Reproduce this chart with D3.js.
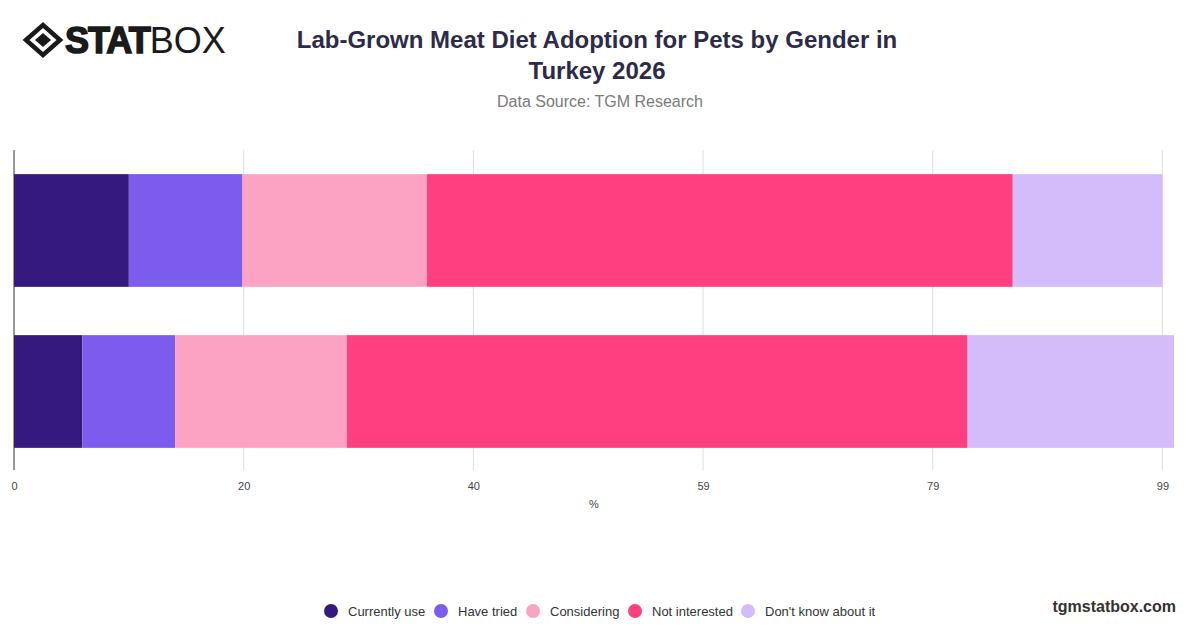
<!DOCTYPE html>
<html><head><meta charset="utf-8">
<script src="https://cdn.jsdelivr.net/npm/d3@7"></script>
<style>body{margin:0;background:#fff;font-family:"Helvetica Neue",Arial,"Liberation Sans",sans-serif}</style>
</head><body>
<script>
const genders = ['Male', 'Female']
const series = ['Currently use', 'Have tried', 'Considering', 'Not interested', "Don't know about it"]
const colors = ['#35197f', '#7b5ced', '#fca3c3', '#ff3f80', '#d4bcfb']
const values = [
  [9.9, 9.8, 15.9, 50.5, 12.9],
  [5.9, 8, 14.8, 53.5, 17.8]
]
const tickVals = [0, 19.8, 39.6, 59.4, 79.2, 99]

const W = 1200, H = 628
const svg = d3.select('body').append('svg').attr('width', W).attr('height', H)

// logo
const lg = svg.append('g').attr('transform', 'translate(43,40)')
lg.append('path').attr('d', 'M-17,0 L0,-15 L17,0 L0,15 Z').attr('fill', 'none').attr('stroke', '#1a1a1a').attr('stroke-width', 4.5)
lg.append('path').attr('d', 'M-8,0 L0,-7 L8,0 L0,7 Z').attr('fill', '#1a1a1a')
lg.append('text').attr('x', 22).attr('y', 13).attr('font-size', 36).attr('fill', '#1a1a1a')
  .attr('font-family', 'Liberation Sans, Arial, sans-serif')
  .html('<tspan font-weight="900" letter-spacing="-1" stroke="#1a1a1a" stroke-width="1.5">STAT</tspan><tspan font-weight="300">BOX</tspan>')

svg.append('text').attr('x', 597).attr('y', 48).attr('text-anchor', 'middle')
  .attr('font-size', 24).attr('font-weight', 'bold').attr('fill', '#2d2b48')
  .text('Lab-Grown Meat Diet Adoption for Pets by Gender in')
svg.append('text').attr('x', 597).attr('y', 79).attr('text-anchor', 'middle')
  .attr('font-size', 24).attr('font-weight', 'bold').attr('fill', '#2d2b48')
  .text('Turkey 2026')
svg.append('text').attr('x', 600).attr('y', 107).attr('text-anchor', 'middle')
  .attr('font-size', 16).attr('fill', '#7a7a7a').text('Data Source: TGM Research')

const x = d3.scaleLinear().domain([0, 100]).range([14, 1174])
const y = d3.scaleBand().domain(genders).range([150, 472]).paddingInner(0.3).paddingOuter(0.15)

// grid
svg.append('g').selectAll('line').data(tickVals.slice(1)).join('line')
  .attr('x1', d => x(d)).attr('x2', d => x(d)).attr('y1', 150).attr('y2', 470)
  .attr('stroke', '#dddddd')

const rows = svg.append('g').selectAll('g').data(genders).join('g')
rows.each(function (g, i) {
  let acc = 0
  const segs = values[i].map((v, j) => { const s = { x0: acc, x1: acc + v, c: colors[j] }; acc += v; return s })
  d3.select(this).selectAll('rect').data(segs).join('rect')
    .attr('x', d => x(d.x0)).attr('width', d => x(d.x1) - x(d.x0))
    .attr('y', y(g)).attr('height', y.bandwidth()).attr('fill', d => d.c)
})

svg.append('line').attr('x1', 14).attr('x2', 14).attr('y1', 150).attr('y2', 470).attr('stroke', '#333')

const xAxis = svg.append('g').attr('transform', 'translate(0,472)')
  .call(d3.axisBottom(x).tickValues(tickVals).tickFormat(d => Math.round(d)).tickSize(0).tickPadding(10))
xAxis.select('.domain').remove()
xAxis.selectAll('text').attr('font-size', 11).attr('fill', '#444')
svg.append('text').attr('x', 594).attr('y', 508).attr('text-anchor', 'middle').attr('font-size', 11).attr('fill', '#444').text('%')

// legend
const legX = [331, 441, 533, 635, 748]
const leg = svg.append('g').selectAll('g').data(series).join('g')
  .attr('transform', (d, i) => `translate(${legX[i]},611)`)
leg.append('circle').attr('r', 7).attr('fill', (d, i) => colors[i])
leg.append('text').attr('x', 17).attr('y', 5).attr('font-size', 13).attr('fill', '#333').text(d => d)

svg.append('text').attr('x', 1176).attr('y', 612).attr('text-anchor', 'end')
  .attr('font-size', 16).attr('font-weight', 'bold').attr('fill', '#333').text('tgmstatbox.com')
</script>
</body></html>
